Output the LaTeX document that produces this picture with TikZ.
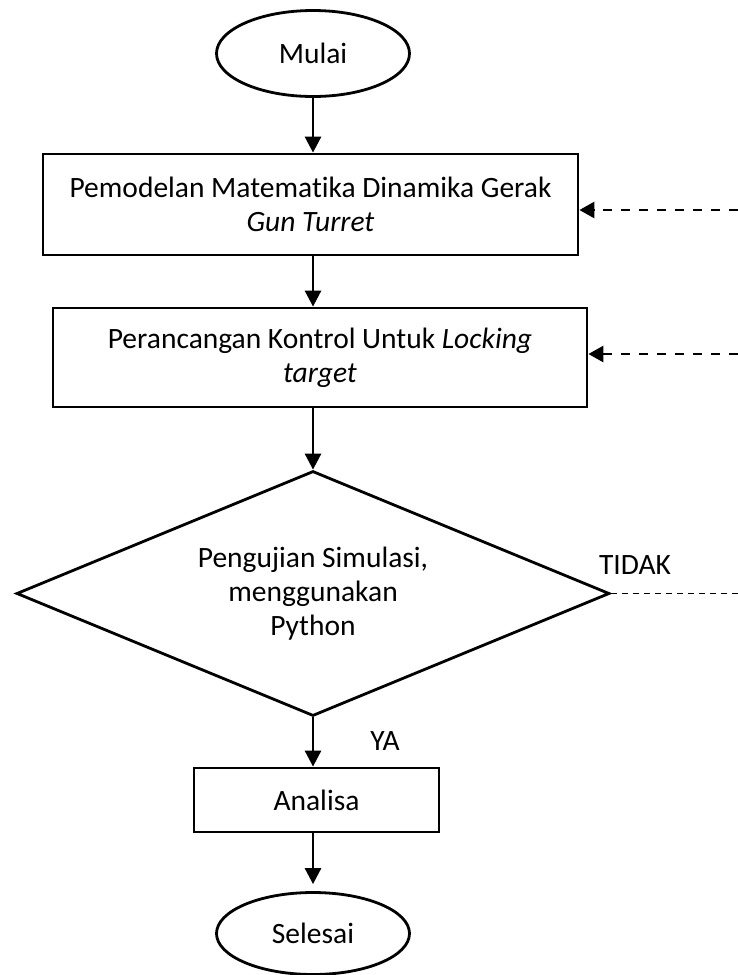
\documentclass[tikz,border=0pt]{standalone}
\usepackage{fontspec}
\setmainfont{Carlito}[Ligatures=NoCommon]
\usetikzlibrary{shapes.geometric,arrows.meta}
\begin{document}
\begin{tikzpicture}[x=1pt,y=-1pt,
  every node/.style={font=\fontsize{29.5}{34}\selectfont, inner sep=0pt, align=center},
  terminal/.style={draw, line width=2.8pt, ellipse, minimum width=193pt, minimum height=86pt},
  procbox/.style={draw, line width=2.8pt, rectangle},
  decision/.style={draw, line width=2.8pt, diamond, aspect=2.42, minimum width=593pt, minimum height=245pt},
  flow/.style={line width=2.8pt, -{Triangle[length=16pt,width=16pt]}},
  feedback/.style={line width=2.8pt, dash pattern=on 9pt off 9pt, -{Triangle[length=15pt,width=16pt]}},
  thindash/.style={line width=1.4pt, dash pattern=on 6pt off 5pt},
  lbl/.style={}]
\useasboundingbox (0,0) rectangle (738,975);

\node[terminal] (mulai) at (313,53.5) {Mulai};
\node[procbox, minimum width=535pt, minimum height=101pt] (box1) at (310.5,204.5)
  {Pemodelan Matematika Dinamika Gerak\\ \textit{Gun Turret}};
\node[procbox, minimum width=534pt, minimum height=99pt] (box2) at (320,357.5)
  {Perancangan Kontrol Untuk \textit{Locking}\\ \textit{target}};
\node[decision] (dec) at (313,593.5) {Pengujian Simulasi,\\ menggunakan\\ Python};
\node[procbox, minimum width=245pt, minimum height=64pt] (ana) at (316.5,800) {Analisa};
\node[terminal, minimum height=82pt] (sel) at (313,933.5) {Selesai};

\node[lbl] (tidak) at (635,565) {TIDAK};
\node[lbl] (ya) at (385,741) {YA};

\coordinate (r1) at (738,210);
\coordinate (r2) at (738,354);
\coordinate (r3) at (738,593.5);

\draw[flow] (mulai.south) -- (mulai.south |- box1.north);
\draw[flow] (mulai.south |- box1.south) -- (mulai.south |- box2.north);
\draw[flow] (dec.north |- box2.south) -- (dec.north);
\draw[flow] (dec.south) -- (dec.south |- ana.north);
\draw[flow, shorten >=7pt] (ana.south -| sel.north) -- (sel.north);

\draw[feedback] (r1) -- (box1.east |- r1);
\draw[feedback] (r2) -- (box2.east |- r2);
\draw[thindash] (dec.east) -- (r3);
\end{tikzpicture}
\end{document}
